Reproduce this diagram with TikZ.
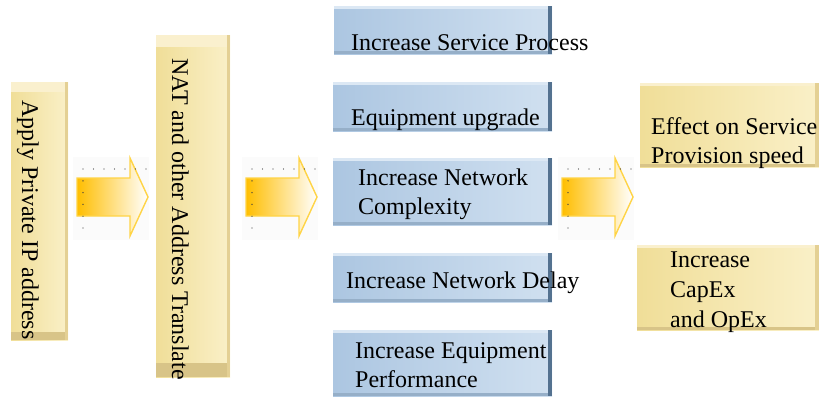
\documentclass[tikz,border=0pt]{standalone}
\usepackage{fontspec}
\setmainfont{Liberation Serif}
\usetikzlibrary{fit}

\definecolor{yelL}{RGB}{240,222,152}
\definecolor{yelR}{RGB}{250,240,200}
\definecolor{yelTop}{RGB}{250,240,206}
\definecolor{yelBot}{RGB}{216,196,136}
\definecolor{yelEdge}{RGB}{228,208,148}
\definecolor{bluL}{RGB}{172,198,225}
\definecolor{bluR}{RGB}{208,224,240}
\definecolor{bluTop}{RGB}{220,232,244}
\definecolor{bluEdge}{RGB}{84,114,144}
\definecolor{bluBot}{RGB}{150,175,200}
\definecolor{arrL}{RGB}{255,190,0}
\definecolor{arrLine}{RGB}{255,212,70}

\tikzset{
  txt/.style={inner sep=0pt, font=\fontsize{24}{29}\selectfont, text=black, align=left},
  % blue cards: shaded face, dark right edge, darker lower rim, light upper rim
  bluecard/.style={inner sep=0pt, left color=bluL, right color=bluR,
    path picture={
      \fill[bluTop] (path picture bounding box.north west) rectangle ([yshift=-3pt]path picture bounding box.north east);
      \fill[bluBot] ([yshift=3pt]path picture bounding box.south west) rectangle (path picture bounding box.south east);
      \fill[bluEdge] ([xshift=-4pt]path picture bounding box.north east) rectangle (path picture bounding box.south east);
    }},
  % cream cards on the right
  yelcard/.style={inner sep=0pt, left color=yelL, right color=yelR,
    path picture={
      \fill[yelTop] (path picture bounding box.north west) rectangle ([yshift=-3pt]path picture bounding box.north east);
      \fill[yelBot] ([yshift=3pt]path picture bounding box.south west) rectangle (path picture bounding box.south east);
      \fill[yelEdge] ([xshift=-4pt]path picture bounding box.north east) rectangle (path picture bounding box.south east);
    }},
  % tall cream cards on the left, with a light cap and a dark foot
  vcard/.style 2 args={inner sep=0pt, left color=yelL, right color=yelR,
    path picture={
      \fill[yelTop] (path picture bounding box.north west) rectangle ([yshift=-#1]path picture bounding box.north east);
      \fill[yelBot] ([yshift=#2]path picture bounding box.south west) rectangle (path picture bounding box.south east);
      \fill[yelEdge] ([xshift=-3pt]path picture bounding box.north east) rectangle (path picture bounding box.south east);
    }},
  arrowbody/.style={left color=arrL, right color=white, draw=arrLine, line width=1.4pt, line join=miter},
  dotmark/.style={fill=black!75}
}

% block arrow with its dotted guide marks; #1 = left end of the shaft
\newcommand\blockarrow[1]{%
  \fill[black!1.5] (#1-4,157) rectangle (#1+72,240);
  \path[arrowbody] (#1,178) -- (#1+53,178) -- (#1+53,158) -- (#1+71,197)
     -- (#1+53,236) -- (#1+53,216) -- (#1,216) -- cycle;
  \foreach \i in {0,...,6} \fill[dotmark] (#1+6+\i*10.5,169) circle (0.7);
  \foreach \j in {1,...,5} \fill[dotmark] (#1+6,169+\j*11.8) circle (0.7);
}

\begin{document}
\begin{tikzpicture}[x=1pt,y=-1pt]
\useasboundingbox (0,0) rectangle (819,397);

% left column: two tall cards
\node[vcard={10pt}{8pt}, fit={(11,82) (68,340)}] (priv) {};
\node[txt, rotate=-90, anchor=base west] (privtxt) at (22,100) {Apply Private IP address};

\node[vcard={12pt}{14pt}, fit={(156,35) (230,377)}] (nat) {};
\node[txt, rotate=-90, anchor=base west] (nattxt) at (172,58) {NAT and other Address Translate};

% block arrows
\blockarrow{77}
\blockarrow{246}
\blockarrow{562}

% middle column: consequences (multi-line labels sit on their last baseline)
\node[bluecard, fit={(334,6) (552,54)}] (proc) {};
\node[txt, anchor=base west] (proctxt) at (351,50) {Increase Service Process};

\node[bluecard, fit={(333,82) (552,131)}] (upg) {};
\node[txt, anchor=base west] (upgtxt) at (351,125) {Equipment upgrade};

\node[bluecard, fit={(333,158) (552,225)}] (cplx) {};
\node[txt, anchor=base west] (cplxtxt) at (358,214) {Increase Network\\Complexity};

\node[bluecard, fit={(333,253) (552,302)}] (delay) {};
\node[txt, anchor=base west] (delaytxt) at (346,288) {Increase Network Delay};

\node[bluecard, fit={(333,330) (552,396)}] (perf) {};
\node[txt, anchor=base west] (perftxt) at (355,387) {Increase Equipment\\Performance};

% right column: outcomes
\node[yelcard, fit={(640,83) (819,167)}] (speed) {};
\node[txt, anchor=base west] (speedtxt) at (651,163) {Effect on Service\\Provision speed};

\node[yelcard, fit={(637,245) (819,330)}] (cost) {};
\node[txt, anchor=base west, font=\fontsize{24}{30}\selectfont] (costtxt) at (670,327) {Increase\\CapEx\\and OpEx};
\end{tikzpicture}
\end{document}
